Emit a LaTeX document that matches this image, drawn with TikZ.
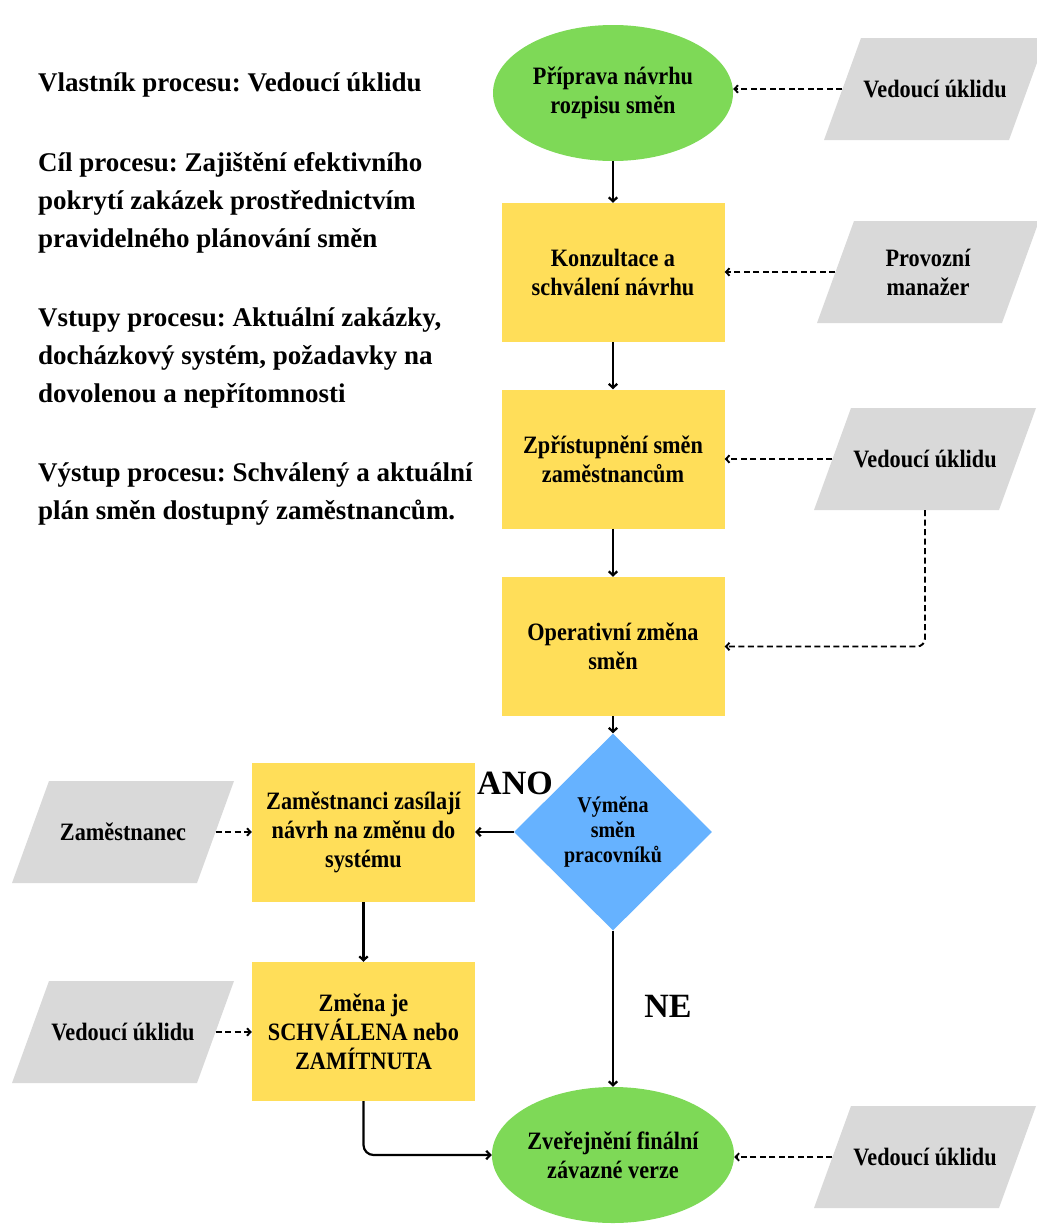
\documentclass[tikz,border=0pt]{standalone}
\usepackage{fontspec}
\setmainfont{Liberation Serif}
\newfontfamily\narrowserif[FakeStretch=0.89]{Liberation Serif}
\usetikzlibrary{shapes.geometric,arrows.meta}
\frenchspacing

\definecolor{termgreen}{HTML}{7ED957}
\definecolor{procyellow}{HTML}{FFDE59}
\definecolor{decblue}{HTML}{66B2FF}
\definecolor{iogray}{HTML}{D9D9D9}

\tikzset{
  every node/.style={inner sep=0pt, text=black},
  boxtext/.style={font=\narrowserif\bfseries\fontsize{25}{29}\selectfont, align=center},
  infotext/.style={font=\bfseries\fontsize{27}{37}\selectfont, anchor=base west},
  bigtext/.style={font=\bfseries\fontsize{34}{40}\selectfont},
  terminal/.style={ellipse, fill=termgreen, minimum width=240, minimum height=136, boxtext},
  procbox/.style={rectangle, fill=procyellow, minimum width=223, minimum height=139, boxtext},
  decision/.style={diamond, fill=decblue, minimum width=198, minimum height=197, boxtext,
    font=\narrowserif\bfseries\fontsize{22.5}{25}\selectfont},
  iotext/.style={rectangle, minimum width=185, minimum height=102, boxtext},
  flow/.style={line width=2.2pt, -{Straight Barb[length=4pt,width=8.5pt]}},
  feed/.style={line width=1.9pt, dash pattern=on 6pt off 3.5pt,
    -{Straight Barb[length=3.5pt,width=7.5pt]}}
}

% data parallelogram: name, centre x, centre y, text
\newcommand\ionode[4]{%
  \fill[iogray] (#2-74,#3-51) -- (#2+111,#3-51) -- (#2+74,#3+51) -- (#2-111,#3+51) -- cycle;
  \node[iotext] (#1) at (#2,#3) {#4};
}

\begin{document}
\begin{tikzpicture}[x=1pt, y=-1pt]
  \useasboundingbox (0,0) rectangle (1036,1226);

  % process description
  \node[infotext] (i1) at (38,91)  {Vlastník procesu: Vedoucí úklidu};
  \node[infotext] (i2) at (38,171) {Cíl procesu: Zajištění efektivního};
  \node[infotext] (i3) at (38,209) {pokrytí zakázek prostřednictvím};
  \node[infotext] (i4) at (38,247) {pravidelného plánování směn};
  \node[infotext] (i5) at (38,326) {Vstupy procesu: Aktuální zakázky,};
  \node[infotext] (i6) at (38,364) {docházkový systém, požadavky na};
  \node[infotext] (i7) at (38,402) {dovolenou a nepřítomnosti};
  \node[infotext] (i8) at (38,481) {Výstup procesu: Schválený a aktuální};
  \node[infotext] (i9) at (38,519) {plán směn dostupný zaměstnancům.};

  % main flow
  \node[terminal] (e1) at (613,93)    {Příprava návrhu\\rozpisu směn};
  \node[procbox]  (b2) at (613,272.5) {Konzultace a\\schválení návrhu};
  \node[procbox]  (b3) at (613,459)   {Zpřístupnění směn\\zaměstnancům};
  \node[procbox]  (b4) at (613,646.5) {Operativní změna\\směn};
  \node[decision] (d)  at (613,832)   {Výměna\\směn\\pracovníků};
  \node[procbox]  (b5) at (363.5,832.5) {Zaměstnanci zasílají\\návrh na změnu do\\systému};
  \node[procbox]  (b6) at (363.5,1031.5) {Změna je\\SCHVÁLENA nebo\\ZAMÍTNUTA};
  \node[terminal] (e2) at (613,1155)  {Zveřejnění finální\\závazné verze};

  % inputs
  \ionode{p1}{935}{89}{Vedoucí úklidu}
  \ionode{p2}{928}{272}{Provozní\\manažer}
  \ionode{p3}{925}{459}{Vedoucí úklidu}
  \ionode{p4}{123}{832}{Zaměstnanec}
  \ionode{p6}{123}{1032}{Vedoucí úklidu}
  \ionode{p5}{925}{1157}{Vedoucí úklidu}

  % branch labels
  \node[bigtext] (ano) at (515,783) {ANO};
  \node[bigtext] (ne)  at (668,1006) {NE};

  % solid connectors
  \draw[flow] (e1.south) -- (b2.north);
  \draw[flow] (b2.south) -- (b3.north);
  \draw[flow] (b3.south) -- (b4.north);
  \draw[flow] (b4.south) -- (d.north);
  \draw[flow] (d.west) -- (d.west -| b5.east);
  \draw[flow] (b5.south) -- (b6.north);
  \draw[flow] (d.south) -- (e2.north);
  \draw[flow, rounded corners=10pt] (b6.south) |- (e2.west);

  % dashed input connectors
  \draw[feed] (p1.west) -- (p1.west -| e1.east);
  \draw[feed] (p2.west) -- (p2.west -| b2.east);
  \draw[feed] (p3.west) -- (p3.west -| b3.east);
  \draw[feed, rounded corners=8pt] (p3.south) |- (b4.east);
  \draw[feed] (p4.east) -- (p4.east -| b5.west);
  \draw[feed] (p6.east) -- (p6.east -| b6.west);
  \draw[feed] (p5.west) -- (p5.west -| e2.east);
\end{tikzpicture}
\end{document}
